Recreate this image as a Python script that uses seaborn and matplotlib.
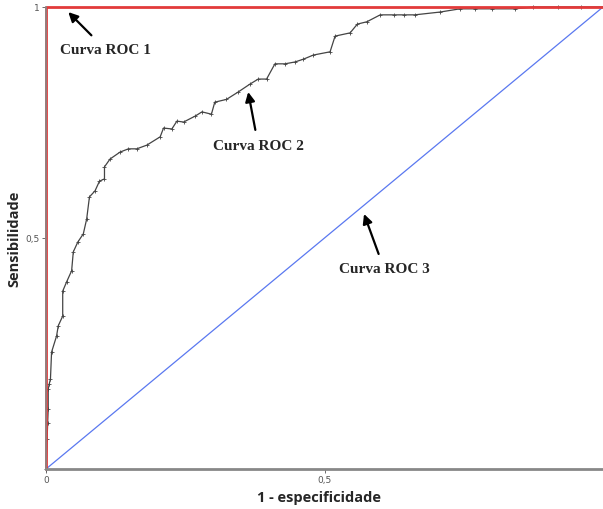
import matplotlib
matplotlib.use("Agg")
import matplotlib.pyplot as plt
import seaborn as sns
import pandas as pd

# --- dados ---
roc1_fpr = [0.0, 0.0, 1.0]
roc1_tpr = [0.0, 1.0, 1.0]

roc2_fpr = [0.0, 0.002, 0.003, 0.004, 0.004, 0.006, 0.008, 0.010, 0.019, 0.022, 0.030,
            0.030, 0.037, 0.046, 0.049, 0.057, 0.067, 0.073, 0.078, 0.088, 0.096,
            0.105, 0.105, 0.115, 0.133, 0.148, 0.163, 0.181, 0.205, 0.211, 0.226,
            0.235, 0.247, 0.268, 0.280, 0.297, 0.303, 0.324, 0.345, 0.366, 0.381,
            0.396, 0.411, 0.429, 0.447, 0.462, 0.480, 0.510, 0.519, 0.546, 0.559,
            0.576, 0.600, 0.625, 0.643, 0.662, 0.707, 0.743, 0.770, 0.800, 0.842,
            0.875, 0.920, 0.960, 1.0]
roc2_tpr = [0.0, 0.065, 0.10, 0.13, 0.173, 0.185, 0.195, 0.253, 0.288, 0.310, 0.331,
            0.385, 0.405, 0.429, 0.470, 0.491, 0.509, 0.541, 0.589, 0.602, 0.623,
            0.628, 0.654, 0.671, 0.686, 0.693, 0.693, 0.701, 0.719, 0.738, 0.736,
            0.753, 0.751, 0.764, 0.773, 0.768, 0.794, 0.800, 0.816, 0.833, 0.844,
            0.844, 0.877, 0.877, 0.881, 0.887, 0.896, 0.903, 0.937, 0.944, 0.963,
            0.968, 0.983, 0.983, 0.983, 0.983, 0.989, 0.996, 0.996, 0.996, 0.996,
            1.0, 1.0, 1.0, 1.0]

roc3_fpr = [0.0, 1.0]
roc3_tpr = [0.0, 1.0]

x_ticks = [0.0, 0.5]
x_tick_labels = ["0", "0,5"]
y_ticks = [0.5, 1.0]
y_tick_labels = ["0,5", "1"]

# rótulos das curvas: (texto, ponta da seta, posição do texto)
anotacoes = [
    ("Curva ROC 1", (0.040, 0.989), (0.106, 0.909)),
    ("Curva ROC 2", (0.363, 0.816), (0.381, 0.701)),
    ("Curva ROC 3", (0.571, 0.552), (0.607, 0.433)),
]

sns.set_theme(style="white")

fig = plt.figure(figsize=(6.03, 5.10), dpi=100)
ax = fig.add_axes([46 / 603, 40 / 510, 557 / 603, 462 / 510])

df1 = pd.DataFrame({"fpr": roc1_fpr, "tpr": roc1_tpr})
df2 = pd.DataFrame({"fpr": roc2_fpr, "tpr": roc2_tpr})
df3 = pd.DataFrame({"fpr": roc3_fpr, "tpr": roc3_tpr})

sns.lineplot(data=df3, x="fpr", y="tpr", ax=ax, color="#5a78f0", linewidth=0.9,
             sort=False, estimator=None)
sns.lineplot(data=df2, x="fpr", y="tpr", ax=ax, color="#444444", linewidth=0.9,
             marker="+", markersize=3, markeredgewidth=0.6, markeredgecolor="#444444",
             sort=False, estimator=None)
sns.lineplot(data=df1, x="fpr", y="tpr", ax=ax, color="#e23a3a", linewidth=2.0,
             sort=False, estimator=None)
for ln in ax.lines:
    ln.set_clip_on(False)

for texto, ponta, pos in anotacoes:
    ax.annotate(texto, xy=ponta, xytext=pos, ha="center", va="center",
                fontsize=11, fontweight="bold", family="Liberation Serif",
                arrowprops=dict(arrowstyle="-|>", color="black", lw=1.6,
                                mutation_scale=14, shrinkA=4, shrinkB=0))

ax.set_xlim(0, 1)
ax.set_ylim(0, 1)
ax.set_xticks(x_ticks)
ax.set_xticklabels(x_tick_labels)
ax.set_yticks(y_ticks)
ax.set_yticklabels(y_tick_labels)
ax.tick_params(axis="both", labelsize=6.5, colors="#555555", length=3, width=0.6,
               direction="out", pad=1.5, bottom=True, left=True)

ax.set_xlabel("1 - especificidade", fontsize=10.5, fontweight="bold", family="Open Sans")
ax.set_ylabel("Sensibilidade", fontsize=10.5, fontweight="bold", family="Open Sans")
ax.xaxis.set_label_coords(0.49, -0.046)
ax.yaxis.set_label_coords(-0.044, 0.5)

for lado in ["top", "right"]:
    ax.spines[lado].set_visible(False)
ax.spines["left"].set_color("#888888")
ax.spines["left"].set_linewidth(1.2)
ax.spines["bottom"].set_color("#888888")
ax.spines["bottom"].set_linewidth(2.0)

ax.grid(False)
fig.savefig("out.png", dpi=100)
